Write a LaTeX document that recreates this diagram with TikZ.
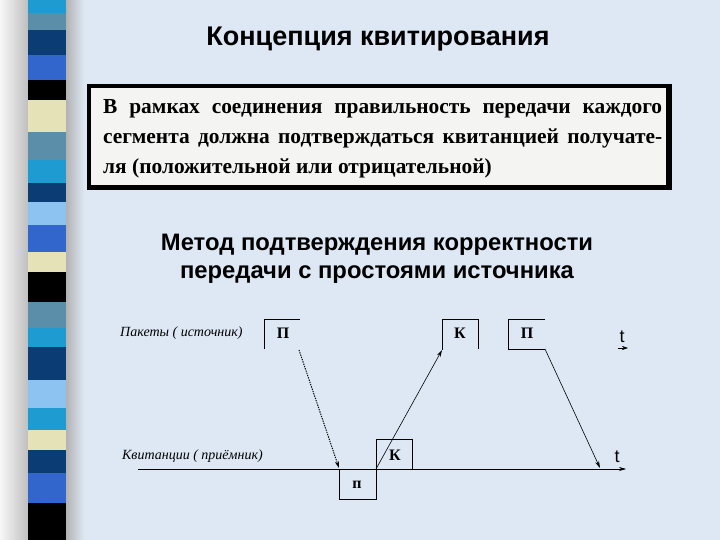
\documentclass[tikz,border=0pt]{standalone}
\usepackage{fontspec}
\setmainfont{Liberation Serif}
\newfontfamily\arial{Liberation Sans}
\usetikzlibrary{arrows.meta}
\definecolor{bgblue}{HTML}{DDE8F4}
\definecolor{scyan}{HTML}{1E9BD0}
\definecolor{ssteel}{HTML}{5B8EA8}
\definecolor{snavy}{HTML}{0B3C74}
\definecolor{sroyal}{HTML}{3366CC}
\definecolor{scream}{HTML}{E6E2B8}
\definecolor{slight}{HTML}{8CC3F0}
\definecolor{boxfill}{HTML}{F4F4F2}
\tikzset{
  frameline/.style={line width=0.9pt, black},
  arr/.style={line width=0.6pt, -{Stealth[length=7pt,width=4pt]}},
  boxletter/.style={font=\bfseries\fontsize{16}{18}\selectfont, inner sep=0pt},
  axislabel/.style={font=\itshape\fontsize{14}{16}\selectfont, inner sep=0pt, anchor=west},
  tlabel/.style={font=\arial\fontsize{18}{20}\selectfont, inner sep=0pt}
}
\begin{document}
\begin{tikzpicture}[x=1pt,y=-1pt]
\useasboundingbox (0,0) rectangle (720,540);
% background
\fill[bgblue] (0,0) rectangle (720,540);
\shade[left color=white!94!gray, right color=gray!50] (0,0) rectangle (28,540);
\shade[left color=gray!60, right color=bgblue] (66,0) rectangle (84,540);
% stripes
\foreach \ya/\yb/\c in {0/13/scyan,13/30/ssteel,30/55/snavy,55/80/sroyal,80/100/black,100/132/scream,132/160/ssteel,160/183/scyan,183/202/snavy,202/225/slight,225/252/sroyal,252/272/scream,272/302/black,302/328/ssteel,328/347/scyan,347/380/snavy,380/408/slight,408/430/scyan,430/450/scream,450/473/snavy,473/503/sroyal,503/540/black}
  \fill[\c] (28,\ya) rectangle (66,\yb);
% title
\node[font=\arial\bfseries\fontsize{27}{30}\selectfont] (title) at (378,39) {Концепция квитирования};
% text box
\fill[black] (87,84) rectangle (672,190);
\fill[boxfill] (91,88) rectangle (666,185);
\node[inner sep=0pt, anchor=north west, font=\bfseries\fontsize{21.4}{30}\selectfont, align=left] (boxtext) at (103,99)
  {\makebox[559pt][s]{В рамках соединения правильность передачи каждого}\\
   \makebox[559pt][s]{сегмента должна подтверждаться квитанцией получате-}\\
   ля (положительной или отрицательной)};
% subtitle
\node[font=\arial\bfseries\fontsize{23.8}{28}\selectfont, align=center] (sub) at (377,259)
  {Метод подтверждения корректности\\передачи с простоями источника};
% diagram labels
\node[axislabel] (lp) at (120,333) {Пакеты ( источник)};
\node[axislabel] (lk) at (122,456) {Квитанции ( приёмник)};
% axis
\coordinate (ax0) at (138,469);
\coordinate (ax1) at (626,469);
\draw[arr] (ax0) -- (ax1);
\node[tlabel] (t2) at (617,457) {t};
\node[tlabel] (t1) at (622,337) {t};
\coordinate (ta) at (618,348);
\coordinate (tb) at (628,348);
\draw[line width=0.6pt, -{Stealth[length=6pt,width=4pt]}] (ta) -- (tb);
% top box P1
\draw[frameline] (264,349) -- (264,319) -- (300,319);
\node[boxletter] (p1) at (283,333) {П};
% top box K
\draw[frameline] (442,350) -- (442,319) -- (478,319) -- (478,349);
\node[boxletter] (k1) at (460,333) {К};
% top box P2
\draw[frameline] (545,319) -- (508,319) -- (508,349) -- (545,349);
\node[boxletter] (p2) at (527,333) {П};
% bottom boxes
\draw[frameline] (339,469) rectangle (376,499);
\node[boxletter] (p3) at (357,485) {п};
\draw[frameline] (376,439) rectangle (412,469);
\node[boxletter] (k2) at (395,455) {К};
% arrows
\coordinate (a1s) at (299,350);
\coordinate (a1e) at (339,468);
\coordinate (a2s) at (376,469);
\coordinate (a2e) at (442,350);
\coordinate (a3s) at (545,349);
\coordinate (a3e) at (600,468);
\draw[arr, line width=1pt, dash pattern=on 1.3pt off 1.1pt] (a1s) -- (a1e);
\draw[arr] (a2s) -- (a2e);
\draw[arr] (a3s) -- (a3e);
\end{tikzpicture}
\end{document}
